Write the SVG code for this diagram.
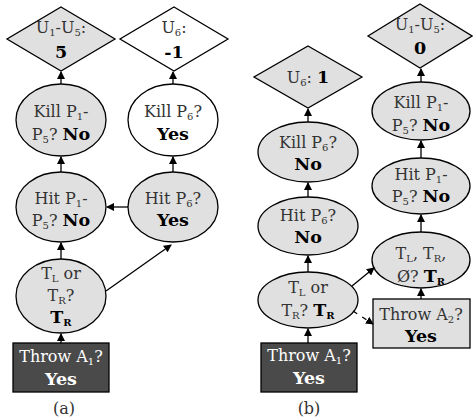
<svg xmlns="http://www.w3.org/2000/svg" width="473" height="420" viewBox="0 0 473 420">
<defs>
<marker id="ah" markerWidth="8" markerHeight="8" refX="7" refY="4" orient="auto" markerUnits="userSpaceOnUse">
<path d="M0,0 L8,4 L0,8 Z" fill="#000"/>
</marker>
<style>
.n{fill:#e0e0e0;stroke:#000;stroke-width:1.3}
.wn{fill:#fff;stroke:#000;stroke-width:1.3}
.dk{fill:#4a4a4a;stroke:#000;stroke-width:1.3}
.t{font-family:'DejaVu Serif',serif;font-size:16px;fill:#333;text-anchor:middle}
.b{font-weight:bold;fill:#000;font-size:17.5px}
.s{font-size:10px}
.w{fill:#fff}
.e{stroke:#000;stroke-width:1.3;fill:none;marker-end:url(#ah)}
.d{stroke-dasharray:5,6}
</style>
</defs>
<rect width="473" height="420" fill="#fff"/>

<!-- panel (a) -->
<g id="a_u15">
<polygon class="n" points="61,7 115,39 61,71 7,39"/>
<text class="t" x="61" y="33">U<tspan class="s" dy="3">1</tspan><tspan dy="-3">-U</tspan><tspan class="s" dy="3">5</tspan><tspan dy="-3">:</tspan></text>
<text class="t b" x="61" y="58">5</text>
</g>
<g id="a_u6">
<polygon class="wn" points="174,7 228,39 174,71 120,39"/>
<text class="t" x="174" y="33">U<tspan class="s" dy="3">6</tspan><tspan dy="-3">:</tspan></text>
<text class="t b" x="174" y="58">-1</text>
</g>
<g id="a_kill15">
<ellipse class="n" cx="61" cy="120" rx="45" ry="36"/>
<text class="t" x="61" y="117">Kill P<tspan class="s" dy="3">1</tspan><tspan dy="-3">-</tspan></text>
<text class="t" x="61" y="140">P<tspan class="s" dy="3">5</tspan><tspan dy="-3">? </tspan><tspan class="b">No</tspan></text>
</g>
<g id="a_kill6">
<ellipse class="wn" cx="173" cy="120" rx="45" ry="36"/>
<text class="t" x="173" y="117">Kill P<tspan class="s" dy="3">6</tspan><tspan dy="-3">?</tspan></text>
<text class="t b" x="173" y="140">Yes</text>
</g>
<g id="a_hit15">
<ellipse class="n" cx="61" cy="207" rx="45" ry="35"/>
<text class="t" x="61" y="204">Hit P<tspan class="s" dy="3">1</tspan><tspan dy="-3">-</tspan></text>
<text class="t" x="61" y="226">P<tspan class="s" dy="3">5</tspan><tspan dy="-3">? </tspan><tspan class="b">No</tspan></text>
</g>
<g id="a_hit6">
<ellipse class="n" cx="173" cy="207" rx="45" ry="35"/>
<text class="t" x="173" y="204">Hit P<tspan class="s" dy="3">6</tspan><tspan dy="-3">?</tspan></text>
<text class="t b" x="173" y="226">Yes</text>
</g>
<g id="a_t">
<ellipse class="n" cx="61" cy="296" rx="45" ry="37"/>
<text class="t" x="61" y="279">T<tspan class="s" dy="3">L</tspan><tspan dy="-3"> or</tspan></text>
<text class="t" x="61" y="301">T<tspan class="s" dy="3">R</tspan><tspan dy="-3">?</tspan></text>
<text class="t b" x="61" y="323">T<tspan class="s" dy="3">R</tspan></text>
</g>
<g id="a_throw1">
<rect class="dk" x="13" y="343" width="96" height="49"/>
<text class="t w" x="61" y="362">Throw A<tspan class="s" dy="3">1</tspan><tspan dy="-3">?</tspan></text>
<text class="t b w" x="61" y="385">Yes</text>
</g>
<text class="t" x="64" y="414" style="font-size:16px">(a)</text>

<!-- panel (b) -->
<g id="b_u6">
<polygon class="n" points="308,46 362,77 308,108 254,77"/>
<text class="t" x="308" y="83">U<tspan class="s" dy="3">6</tspan><tspan dy="-3">: </tspan><tspan class="b">1</tspan></text>
</g>
<g id="b_u15">
<polygon class="n" points="420,4 472,36 420,68 368,36"/>
<text class="t" x="420" y="30">U<tspan class="s" dy="3">1</tspan><tspan dy="-3">-U</tspan><tspan class="s" dy="3">5</tspan><tspan dy="-3">:</tspan></text>
<text class="t b" x="420" y="54">0</text>
</g>
<g id="b_kill6">
<ellipse class="n" cx="308" cy="152" rx="50" ry="30"/>
<text class="t" x="308" y="148">Kill P<tspan class="s" dy="3">6</tspan><tspan dy="-3">?</tspan></text>
<text class="t b" x="308" y="170">No</text>
</g>
<g id="b_hit6">
<ellipse class="n" cx="308" cy="226" rx="50" ry="29"/>
<text class="t" x="308" y="221">Hit P<tspan class="s" dy="3">6</tspan><tspan dy="-3">?</tspan></text>
<text class="t b" x="308" y="243">No</text>
</g>
<g id="b_t">
<ellipse class="n" cx="308" cy="300" rx="50" ry="28"/>
<text class="t" x="308" y="293">T<tspan class="s" dy="3">L</tspan><tspan dy="-3"> or</tspan></text>
<text class="t" x="308" y="316">T<tspan class="s" dy="3">R</tspan><tspan dy="-3">? </tspan><tspan class="b">T<tspan class="s" dy="3">R</tspan></tspan></text>
</g>
<g id="b_throw1">
<rect class="dk" x="261" y="343" width="96" height="49"/>
<text class="t w" x="309" y="361">Throw A<tspan class="s" dy="3">1</tspan><tspan dy="-3">?</tspan></text>
<text class="t b w" x="309" y="384">Yes</text>
</g>
<g id="b_kill15">
<ellipse class="n" cx="421" cy="111" rx="49" ry="29"/>
<text class="t" x="421" y="108">Kill P<tspan class="s" dy="3">1</tspan><tspan dy="-3">-</tspan></text>
<text class="t" x="421" y="131">P<tspan class="s" dy="3">5</tspan><tspan dy="-3">? </tspan><tspan class="b">No</tspan></text>
</g>
<g id="b_hit15">
<ellipse class="n" cx="421" cy="186" rx="49" ry="28"/>
<text class="t" x="421" y="180">Hit P<tspan class="s" dy="3">1</tspan><tspan dy="-3">-</tspan></text>
<text class="t" x="421" y="202">P<tspan class="s" dy="3">5</tspan><tspan dy="-3">? </tspan><tspan class="b">No</tspan></text>
</g>
<g id="b_tt">
<ellipse class="n" cx="421" cy="260" rx="49" ry="28"/>
<text class="t" x="421" y="259">T<tspan class="s" dy="3">L</tspan><tspan dy="-3">, T</tspan><tspan class="s" dy="3">R</tspan><tspan dy="-3">,</tspan></text>
<text class="t" x="421" y="282">Ø? <tspan class="b">T<tspan class="s" dy="3">R</tspan></tspan></text>
</g>
<g id="b_throw2">
<rect class="n" x="373" y="299" width="97" height="49"/>
<text class="t" x="421" y="320">Throw A<tspan class="s" dy="3">2</tspan><tspan dy="-3">?</tspan></text>
<text class="t b" x="421" y="342">Yes</text>
</g>
<text class="t" x="309" y="414" style="font-size:16px">(b)</text>

<g id="connectors">
<line class="e" x1="61" y1="84" x2="61" y2="72"/>
<line class="e" x1="173" y1="84" x2="173" y2="72"/>
<line class="e" x1="61" y1="172" x2="61" y2="157"/>
<line class="e" x1="173" y1="172" x2="173" y2="157"/>
<line class="e" x1="61" y1="259" x2="61" y2="243"/>
<line class="e" x1="61" y1="343" x2="61" y2="334"/>
<line class="e" x1="128" y1="207" x2="107" y2="207"/>
<line class="e" x1="106" y1="291" x2="171" y2="245"/>
<line class="e" x1="308" y1="122" x2="308" y2="109"/>
<line class="e" x1="308" y1="197" x2="308" y2="183"/>
<line class="e" x1="308" y1="272" x2="308" y2="256"/>
<line class="e" x1="308" y1="343" x2="308" y2="329"/>
<line class="e" x1="421" y1="82" x2="421" y2="69"/>
<line class="e" x1="421" y1="158" x2="421" y2="141"/>
<line class="e" x1="421" y1="232" x2="421" y2="215"/>
<line class="e" x1="421" y1="299" x2="421" y2="289"/>
<line class="e" x1="352" y1="286" x2="374" y2="268"/>
<line class="e d" x1="353" y1="311" x2="373" y2="324"/>
</g>
</svg>
